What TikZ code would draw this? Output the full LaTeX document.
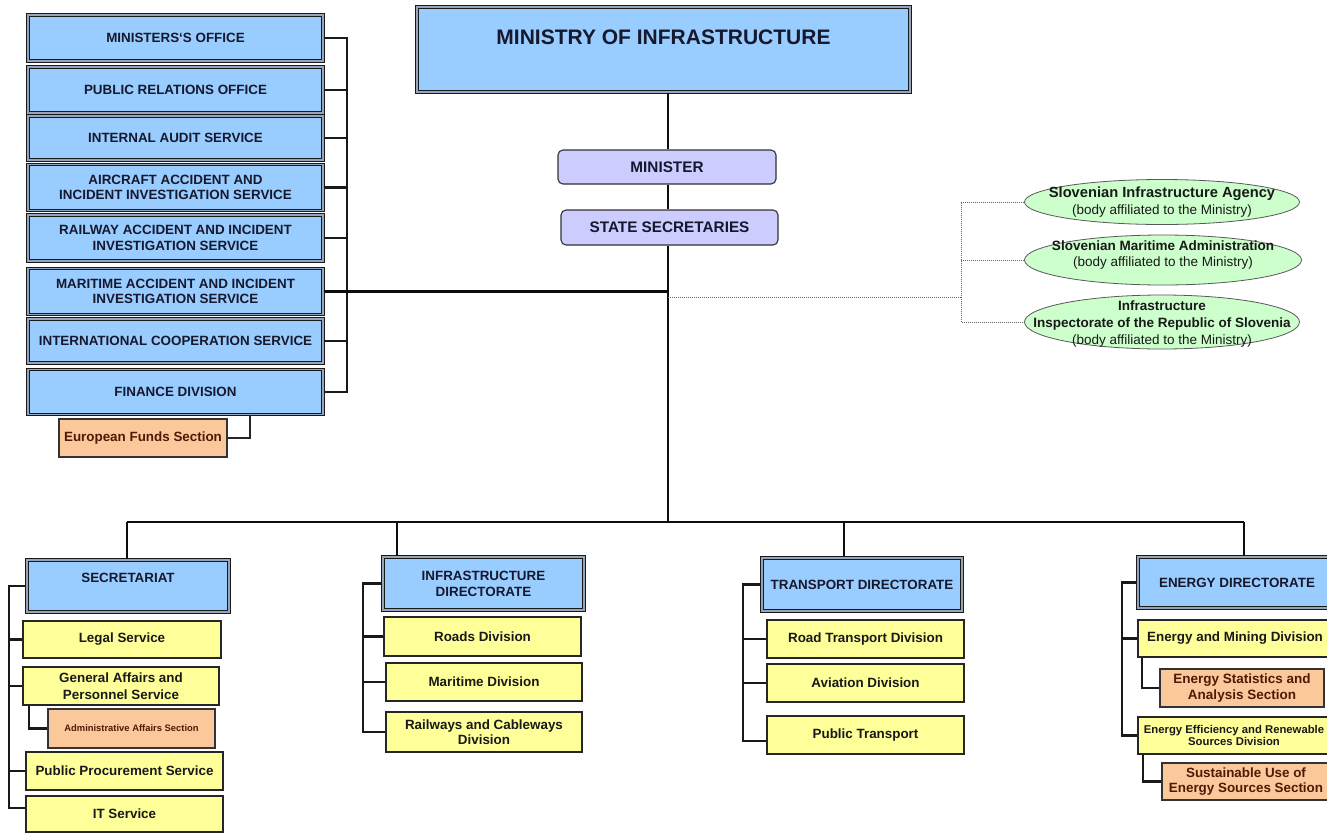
\documentclass[tikz,border=0pt]{standalone}
\usepackage{fontspec}
\setmainfont{Liberation Sans}
\usetikzlibrary{shapes.geometric}
\definecolor{cblue}{RGB}{153,204,255}
\definecolor{cyellow}{RGB}{255,255,153}
\definecolor{corange}{RGB}{250,200,155}
\definecolor{clav}{RGB}{204,204,255}
\definecolor{cgreen}{RGB}{204,255,204}
\definecolor{tdark}{RGB}{22,24,45}
\definecolor{tbrown}{RGB}{80,25,5}
\definecolor{cgap}{RGB}{150,165,185}
\newcommand{\fsz}[2]{\fontsize{#1}{#2}\selectfont}
\tikzset{
  box/.style={rectangle, inner sep=0pt, align=center, font=\bfseries\fsz{13.4}{15.5}},
  bluebox/.style={box, fill=cblue, text=tdark, draw=black!90, line width=1.1pt, double=cgap, double distance=1.1pt},
  yelbox/.style={box, fill=cyellow, text=black!90, draw=black!85, line width=1.4pt},
  orabox/.style={box, fill=corange, text=tbrown, draw=black!80, line width=1.3pt},
  lavbox/.style={box, fill=clav, text=tdark, draw=black!80, line width=1.1pt, rounded corners=5pt, font=\bfseries\fsz{15.3}{17}},
  ell/.style={ellipse, fill=cgreen, draw=black!65, line width=0.8pt, inner sep=0pt},
  etxt/.style={inner sep=0pt, align=center, text=black!90},
  br/.style={draw=black!90, line width=2.3pt},
  thinbr/.style={draw=black!85, line width=1.4pt},
  trunk/.style={draw=black!95, line width=2.6pt},
  dots/.style={draw=black!60, line width=0.8pt, dash pattern=on 0.8pt off 1.2pt}
}
\begin{document}
\begin{tikzpicture}[x=1pt,y=-1pt]
\fill[white] (0,0) rectangle (1327,833);
\useasboundingbox (0,0) rectangle (1327,833);
\clip (0,0) rectangle (1327,833);

% ---- left column ----
\node[bluebox, minimum width=295pt, minimum height=46pt] (mo) at (175.5,38) {MINISTERS`S OFFICE};
\node[bluebox, minimum width=295pt, minimum height=46pt] (pr) at (175.5,90) {PUBLIC RELATIONS OFFICE};
\node[bluebox, minimum width=295pt, minimum height=44pt] (ia) at (175.5,138) {INTERNAL AUDIT SERVICE};
\node[bluebox, minimum width=295pt, minimum height=46pt] (aa) at (175.5,187.5) {AIRCRAFT ACCIDENT AND\\INCIDENT INVESTIGATION SERVICE};
\node[bluebox, minimum width=295pt, minimum height=46pt] (ra) at (175.5,238) {RAILWAY ACCIDENT AND INCIDENT\\INVESTIGATION SERVICE};
\node[bluebox, minimum width=295pt, minimum height=46pt] (ma) at (175.5,291.5) {MARITIME ACCIDENT AND INCIDENT\\INVESTIGATION SERVICE};
\node[bluebox, minimum width=295pt, minimum height=44pt] (ic) at (175.5,341) {INTERNATIONAL COOPERATION SERVICE};
\node[bluebox, minimum width=295pt, minimum height=45pt] (fd) at (175.5,392) {FINANCE DIVISION};
\node[orabox, minimum width=168pt, minimum height=38pt] (ef) at (143,438) {European Funds Section};

% ---- top centre ----
\node[bluebox, minimum width=493pt, minimum height=85pt, font=\bfseries\fsz{21}{24}, text height=15pt, text depth=25pt] (mi) at (663.5,49.5) {MINISTRY OF INFRASTRUCTURE};
\node[lavbox, minimum width=218pt, minimum height=34pt] (mn) at (667,167) {MINISTER};
\node[lavbox, minimum width=217pt, minimum height=35pt] (ss) at (669.5,227.5) {STATE SECRETARIES};

% ---- affiliated bodies ----
\node[ell, minimum width=275pt, minimum height=45pt] (e1) at (1162,202) {};
\node[ell, minimum width=277pt, minimum height=50pt] (e2) at (1163,260) {};
\node[ell, minimum width=275pt, minimum height=54pt] (e3) at (1162,322) {};
\node[etxt, font=\fsz{13.5}{17}] (t1) at (e1.center) {{\bfseries\fsz{14.7}{17}Slovenian Infrastructure Agency}\\(body affiliated to the Ministry)};
\node[etxt, font=\fsz{13.5}{16}] (t2) at (1163,255) {{\bfseries Slovenian Maritime Administration}\\(body affiliated to the Ministry)};
\node[etxt, font=\fsz{13.5}{17}] (t3) at (1162,324) {{\bfseries Infrastructure}\\{\bfseries Inspectorate of the Republic of Slovenia}\\(body affiliated to the Ministry)};

% ---- secretariat ----
\node[bluebox, minimum width=202pt, minimum height=52pt, text height=9.6pt, text depth=16pt] (sec) at (128,586) {SECRETARIAT};
\node[yelbox, minimum width=198pt, minimum height=37pt] (leg) at (122,639.5) {Legal Service};
\node[yelbox, minimum width=196pt, minimum height=38pt, font=\bfseries\fsz{13.4}{17}] (gen) at (121,686) {General Affairs and\\Personnel Service};
\node[orabox, minimum width=167pt, minimum height=39pt, font=\bfseries\fsz{9.4}{11}] (adm) at (131.5,728.5) {Administrative Affairs Section};
\node[yelbox, minimum width=197pt, minimum height=38pt] (pp) at (124.5,771) {Public Procurement Service};
\node[yelbox, minimum width=197pt, minimum height=36pt] (it) at (124.5,814) {IT Service};

% ---- infrastructure directorate ----
\node[bluebox, minimum width=201pt, minimum height=53pt, font=\bfseries\fsz{13.4}{16}] (idr) at (483.5,583.5) {INFRASTRUCTURE\\DIRECTORATE};
\node[yelbox, minimum width=197pt, minimum height=39pt] (rd) at (482.5,636.5) {Roads Division};
\node[yelbox, minimum width=196pt, minimum height=38pt] (mdv) at (484,682) {Maritime Division};
\node[yelbox, minimum width=196pt, minimum height=40pt] (rcw) at (484,732) {Railways and Cableways\\Division};

% ---- transport directorate ----
\node[bluebox, minimum width=200pt, minimum height=53pt] (tdr) at (862,584.5) {TRANSPORT DIRECTORATE};
\node[yelbox, minimum width=197pt, minimum height=38pt] (rtd) at (865.5,639) {Road Transport Division};
\node[yelbox, minimum width=197pt, minimum height=38pt] (avd) at (865.5,683) {Aviation Division};
\node[yelbox, minimum width=197pt, minimum height=38pt] (ptr) at (865.5,735) {Public Transport};

% ---- energy directorate ----
\node[bluebox, minimum width=198pt, minimum height=51pt] (edr) at (1237,582.5) {ENERGY DIRECTORATE};
\node[yelbox, minimum width=194pt, minimum height=37pt] (emd) at (1235,638.5) {Energy and Mining Division};
\node[orabox, minimum width=164pt, minimum height=38pt, font=\bfseries\fsz{13.5}{16.5}] (esa) at (1242,688) {Energy Statistics and\\Analysis Section};
\node[yelbox, minimum width=192pt, minimum height=37pt, font=\bfseries\fsz{11.3}{12.5}] (eee) at (1234,735.5) {Energy Efficiency and Renewable\\Sources Division};
\node[orabox, minimum width=168pt, minimum height=37pt] (sus) at (1246,781.5) {Sustainable Use of\\Energy Sources Section};

% ---- trunk and bus ----
\coordinate (tx) at (668,0);
\draw[trunk] (mi.south -| tx) -- (mn.north -| tx);
\draw[trunk] (mn.south -| tx) -- (ss.north -| tx);
\coordinate (jn) at (668,522);
\draw[trunk] (ss.south -| tx) -- (jn);
\coordinate (busL) at (127,522);
\coordinate (busR) at (1244,522);
\coordinate (d2) at (397,522);
\coordinate (d3) at (844,522);
\draw[trunk] (busL) -- (busR);
\draw[trunk] (busL) -- (sec.north -| busL);
\draw[trunk] (d2) -- (idr.north -| d2);
\draw[trunk] (d3) -- (tdr.north -| d3);
\draw[trunk] (busR) -- (edr.north -| busR);

% ---- left bracket ----
\coordinate (lbx) at (347,0);
\draw[br] (mo.east) -- (mo.east -| lbx) -- (fd.east -| lbx) -- (fd.east);
\foreach \n in {pr,ia,aa,ra,ic} \draw[br] (\n.east) -- (\n.east -| lbx);
\draw[trunk] (ma.east) -- (ma.east -| tx);
\coordinate (efx) at (250,0);
\draw[thinbr] (fd.south -| efx) |- (ef.east);

% ---- affiliated bodies, dotted ----
\coordinate (dj) at (668,297);
\coordinate (dvx) at (961,0);
\draw[dots] (dj) -- (dj -| dvx);
\draw[dots] (e1.west) -- (e1.west -| dvx) -- (e3.west -| dvx) -- (e3.west);
\draw[dots] (e2.west) -- (e2.west -| dvx);

% ---- secretariat bracket ----
\coordinate (sbx) at (9,0);
\draw[br] (sec.west) -- (sec.west -| sbx) -- ([yshift=6pt]it.west -| sbx) -- ([yshift=6pt]it.west);
\foreach \n in {leg,gen,pp} \draw[br] (\n.west) -- (\n.west -| sbx);
\draw[br] ([xshift=7pt]gen.south west) |- (adm.west);

% ---- infrastructure bracket ----
\coordinate (ibx) at (363,0);
\draw[br] (idr.west) -- (idr.west -| ibx) -- (rcw.west -| ibx) -- (rcw.west);
\foreach \n in {rd,mdv} \draw[br] (\n.west) -- (\n.west -| ibx);

% ---- transport bracket ----
\coordinate (tbx) at (743,0);
\draw[br] (tdr.west) -- (tdr.west -| tbx) -- ([yshift=-6pt]ptr.west -| tbx) -- ([yshift=-6pt]ptr.west);
\foreach \n in {rtd,avd} \draw[br] (\n.west) -- (\n.west -| tbx);

% ---- energy bracket ----
\coordinate (ebx) at (1122,0);
\draw[br] (edr.west) -- (edr.west -| ebx) -- (eee.west -| ebx) -- (eee.west);
\draw[br] (emd.west) -- (emd.west -| ebx);
\draw[br] ([xshift=5pt]emd.south west) |- (esa.west);
\draw[br] ([xshift=6pt]eee.south west) |- (sus.west);
\end{tikzpicture}
\end{document}
